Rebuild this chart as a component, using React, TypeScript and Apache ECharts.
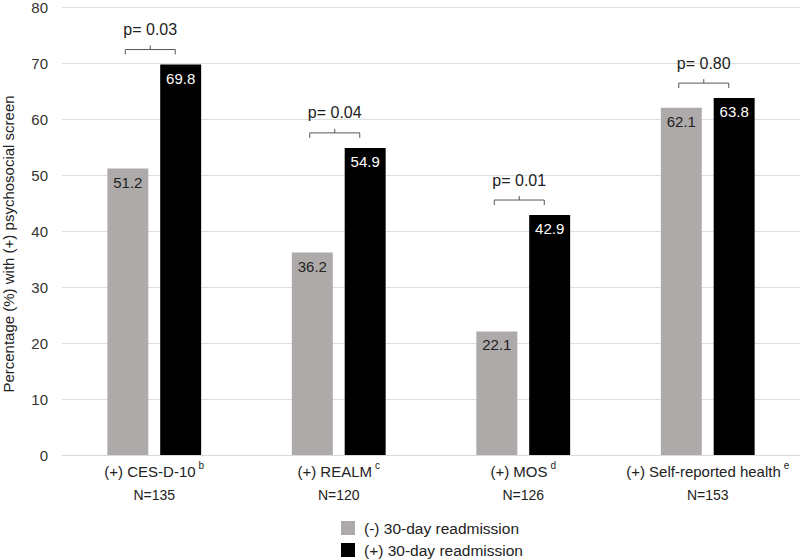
import React, { useEffect, useRef } from "react";
import * as echarts from "echarts";

const categories = ["(+) CES-D-10", "(+) REALM", "(+) MOS", "(+) Self-reported health"];
const superscripts = ["b", "c", "d", "e"];
const sampleSizes = ["N=135", "N=120", "N=126", "N=153"];
const seriesNames = ["(-) 30-day readmission", "(+) 30-day readmission"];
const noReadmission = [51.2, 36.2, 22.1, 62.1];
const readmission = [69.8, 54.9, 42.9, 63.8];
const pValues = ["p= 0.03", "p= 0.04", "p= 0.01", "p= 0.80"];
const yTicks = { min: 0, max: 80, interval: 10 };
const yAxisTitle = "Percentage (%) with (+) psychosocial screen";

const FONT = "'Liberation Sans', Arial, sans-serif";

export default function App() {
  const ref = useRef<HTMLDivElement>(null);
  useEffect(() => {
    if (!ref.current) return;
    const chart = echarts.init(ref.current, undefined, { renderer: "svg" });
    const bracketData = categories.map((_, i) => [
      i,
      Math.max(noReadmission[i], readmission[i]),
      pValues[i],
    ]);
    chart.setOption({
      animation: false,
      textStyle: { fontFamily: FONT },
      grid: { left: 62, right: 0, top: 6, bottom: 105 },
      graphic: [
        {
          type: "text",
          x: 8,
          y: 244,
          rotation: Math.PI / 2,
          style: {
            text: yAxisTitle,
            textAlign: "center",
            textVerticalAlign: "middle",
            fontSize: 15,
            fontFamily: FONT,
            fill: "#222",
          },
        },
      ],
      legend: {
        orient: "vertical",
        left: 341,
        top: 520,
        height: 100,
        padding: 0,
        itemWidth: 14,
        itemHeight: 14,
        itemGap: 6,
        icon: "rect",
        textStyle: { fontSize: 15.5, color: "#222", fontFamily: FONT, padding: [0, 0, 0, 4] },
        data: seriesNames,
      },
      xAxis: {
        type: "category",
        data: categories,
        axisLine: { lineStyle: { color: "#d9d9d9" } },
        axisTick: { show: false },
        axisLabel: {
          interval: 0,
          margin: 5,
          formatter: (v: string, i: number) =>
            `{name|${v}}{sup|${superscripts[i]}}\n{n|${sampleSizes[i]}}`,
          rich: {
            name: { fontSize: 15, color: "#222", fontFamily: FONT, lineHeight: 23 },
            sup: { fontSize: 10, color: "#222", fontFamily: FONT, verticalAlign: "top", lineHeight: 23, padding: [0, 0, 8, 3] },
            n: { fontSize: 14, color: "#222", fontFamily: FONT, lineHeight: 23 },
          },
        },
      },
      yAxis: {
        type: "value",
        min: yTicks.min,
        max: yTicks.max,
        interval: yTicks.interval,
        axisLine: { show: false },
        axisTick: { show: false },
        axisLabel: { fontSize: 15, color: "#333", margin: 14, fontFamily: FONT },
        splitLine: { lineStyle: { color: "#dedede" } },
      },
      series: [
        {
          name: seriesNames[0],
          type: "bar",
          data: noReadmission,
          barWidth: "22.2%",
          barGap: "29%",
          itemStyle: { color: "#aeaaaa" },
          label: {
            show: true,
            position: "insideTop",
            distance: 6,
            fontSize: 15,
            color: "#222",
            fontFamily: FONT,
            formatter: (p: any) => p.value.toFixed(1),
          },
        },
        {
          name: seriesNames[1],
          type: "bar",
          data: readmission,
          barWidth: "22.2%",
          barGap: "29%",
          itemStyle: { color: "#000000" },
          label: {
            show: true,
            position: "insideTop",
            distance: 6,
            fontSize: 15,
            color: "#ffffff",
            fontFamily: FONT,
            formatter: (p: any) => p.value.toFixed(1),
          },
        },
        {
          type: "custom",
          silent: true,
          data: bracketData,
          z: 10,
          renderItem: (params: any, api: any) => {
            const idx = api.value(0);
            const top = api.value(1);
            const pt = api.coord([idx, top]);
            const cx = pt[0] - 4;
            const y = pt[1] - 15;
            const half = 25;
            return {
              type: "group",
              children: [
                {
                  type: "polyline",
                  shape: {
                    points: [
                      [cx - half, y + 5],
                      [cx - half, y],
                      [cx + half, y],
                      [cx + half, y + 5],
                    ],
                  },
                  style: { stroke: "#555", lineWidth: 1, fill: null },
                },
                {
                  type: "line",
                  shape: { x1: cx, y1: y, x2: cx, y2: y - 4 },
                  style: { stroke: "#555", lineWidth: 1 },
                },
                {
                  type: "text",
                  style: {
                    x: cx,
                    y: y - 20,
                    text: bracketData[params.dataIndex][2],
                    textAlign: "center",
                    textVerticalAlign: "middle",
                    fontSize: 16,
                    fontFamily: FONT,
                    fill: "#222",
                  },
                },
              ],
            };
          },
        },
      ],
    });
    return () => chart.dispose();
  }, []);
  return <div ref={ref} style={{ width: 800, height: 560, position: "absolute", left: 0, top: 0 }} />;
}
